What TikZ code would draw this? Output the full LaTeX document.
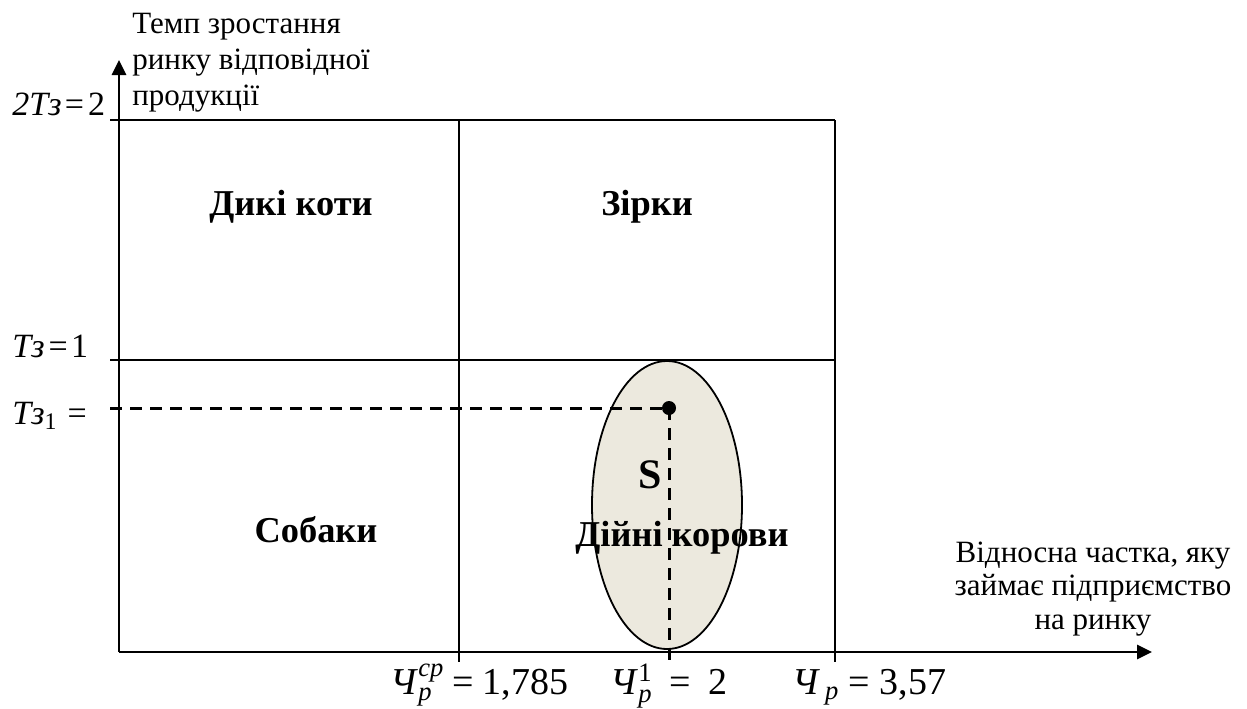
\documentclass[tikz,border=0pt]{standalone}
\usepackage{amsmath}
\usepackage{fontspec}
\setmainfont{Liberation Serif}
\usetikzlibrary{arrows.meta,shapes.geometric}
\definecolor{cowfill}{HTML}{ECE9DE}
\begin{document}
\begin{tikzpicture}[x=0.5pt,y=-0.5pt,
  axis/.style={line width=1.4pt,-{Triangle[length=7.5pt,width=7pt]}},
  gridline/.style={line width=0.9pt},
  guide/.style={line width=1.5pt,dash pattern=on 6pt off 4pt},
  quad/.style={font=\fontsize{18.2}{20}\selectfont\bfseries,inner sep=0pt,anchor=base},
  plain/.style={font=\fontsize{15.5}{16.75}\selectfont,inner sep=0pt},
  eq/.style={font=\fontsize{17}{20}\selectfont,inner sep=0pt,anchor=base west},
  eqb/.style={font=\fontsize{19}{22}\selectfont,inner sep=0pt,anchor=base west}]
\useasboundingbox (0,0) rectangle (1247,708);
% ellipse (drawn first)
\node[ellipse,draw,line width=0.9pt,fill=cowfill,minimum width=75pt,minimum height=144pt,inner sep=0pt] (cow) at (667,505) {};
% coordinates
\coordinate (O) at (119,652);
\coordinate (ytip) at (119,60);
\coordinate (xtip) at (1152,652);
\coordinate (a1) at (110,120); \coordinate (a2) at (835,120);
\coordinate (b1) at (110,360); \coordinate (b2) at (835,360);
\coordinate (c1) at (459,120); \coordinate (c2) at (459,662);
\coordinate (d1) at (835,120); \coordinate (d2) at (835,662);
\coordinate (t1) at (110,408);
\coordinate (p0) at (669,660);
% grid
\draw[gridline] (a1) -- (a2);
\draw[gridline] (b1) -- (b2);
\draw[gridline] (c1) -- (c2);
\draw[gridline] (d1) -- (d2);
% axes
\draw[axis] (O) -- (ytip);
\draw[axis] (O) -- (xtip);
% point and guides
\node[circle,fill=black,inner sep=0pt,minimum size=7pt] (dot) at (669,408) {};
\draw[guide] (t1) -- (dot.center);
\draw[guide] (dot.center) -- (p0);
% quadrant labels
\node[quad] (qWild) at (291,215) {Дикі коти};
\node[quad] (qStars) at (647,215) {Зірки};
\node[quad] (qDogs) at (316,542) {Собаки};
\node[quad] (qCows) at (682,546) {Дійні корови};
\node[quad,font=\fontsize{21}{23}\selectfont\bfseries] (sLabel) at (650,488) {S};
% axis titles (base = baseline of last line)
\node[plain,font=\fontsize{15.5}{18}\selectfont,anchor=base west,align=left] (ytitle) at (132,105) {Темп зростання\\ринку відповідної\\продукції};
\node[plain,anchor=base,align=center] (xtitle) at (1093,629) {Відносна частка, яку\\займає підприємство\\на ринку};
% value labels
\node[eq] (lbl2T) at (12,115) {\textit{2Тз}\kern0.1em=\kern0.12em2};
\node[eq] (lblT) at (12,357) {\textit{Тз}\kern0.12em=\kern0.1em1};
\node[eq] (lblT1) at (12,424) {\textit{Тз}$_{\text{1}}$\kern0.3em=};
\node[eqb] (lblCp) at (390,694) {\textit{Ч}$^{\textit{ср}}_{\textit{р}}$\kern0.2em=\kern0.25em1,785};
\node[eqb] (lblC1) at (610,694) {\textit{Ч}$^{\text{1}}_{\textit{р}}$\kern0.45em=\kern0.45em2};
\node[eqb] (lblCr) at (792,694) {\textit{Ч}$_{\,\textit{р}}$\kern0.25em=\kern0.25em3,57};
\end{tikzpicture}
\end{document}
